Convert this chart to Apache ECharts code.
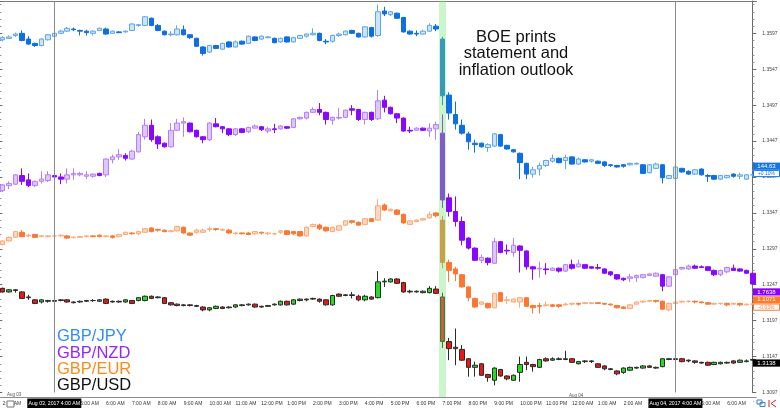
<!DOCTYPE html>
<html>
<head>
<meta charset="utf-8">
<script src="https://cdn.jsdelivr.net/npm/echarts@6/dist/echarts.min.js"></script>
<style>
  html, body { margin: 0; padding: 0; background: #fff; }
  #chart { width: 780px; height: 408px; }
</style>
</head>
<body>
<div id="chart"></div>
<script>
// hours on the bottom axis, 15-minute candles (four per hour)
const aug03Hours = ['2:00 AM', '3:00 AM', '4:00 AM', '5:00 AM', '6:00 AM', '7:00 AM', '8:00 AM', '9:00 AM',
  '10:00 AM', '11:00 AM', '12:00 PM', '1:00 PM', '2:00 PM', '3:00 PM', '4:00 PM', '5:00 PM', '6:00 PM',
  '7:00 PM', '8:00 PM', '9:00 PM', '10:00 PM', '11:00 PM']
const aug04Hours = ['12:00 AM', '1:00 AM', '2:00 AM', '3:00 AM', '4:00 AM', '5:00 AM', '6:00 AM', '7:00 AM']

const dayMarks = ['Aug 03 4:00 AM', 'Aug 04 4:00 AM']
const dayMarkLabels = ['Aug 03, 2017 4:00 AM', 'Aug 04, 2017 4:00 AM']
const boeTime = 'Aug 03 7:00 PM'

// [open, close, low, high], all read against the printed price scale
const jpyData = [
  [1.3588, 1.3591, 1.3586, 1.3593], [1.3590, 1.3592, 1.3589, 1.3594], [1.3594, 1.3596, 1.3592, 1.3598], [1.3597, 1.3587, 1.3586, 1.3601],
  [1.3589, 1.3582, 1.3581, 1.3593], [1.3583, 1.3580, 1.3578, 1.3584], [1.3580, 1.3589, 1.3579, 1.3590], [1.3588, 1.3595, 1.3587, 1.3596],
  [1.3593, 1.3597, 1.3592, 1.3599], [1.3597, 1.3600, 1.3596, 1.3602], [1.3600, 1.3604, 1.3599, 1.3606], [1.3603, 1.3602, 1.3600, 1.3605],
  [1.3601, 1.3600, 1.3594, 1.3602], [1.3600, 1.3598, 1.3594, 1.3602], [1.3597, 1.3600, 1.3594, 1.3601], [1.3601, 1.3604, 1.3600, 1.3605],
  [1.3603, 1.3596, 1.3595, 1.3605], [1.3597, 1.3600, 1.3596, 1.3601], [1.3599, 1.3598, 1.3597, 1.3600], [1.3599, 1.3600, 1.3598, 1.3601],
  [1.3601, 1.3610, 1.3600, 1.3611], [1.3608, 1.3609, 1.3606, 1.3610], [1.3608, 1.3620, 1.3607, 1.3621], [1.3618, 1.3608, 1.3607, 1.3619],
  [1.3608, 1.3601, 1.3600, 1.3610], [1.3600, 1.3595, 1.3594, 1.3601], [1.3595, 1.3596, 1.3593, 1.3600], [1.3595, 1.3603, 1.3594, 1.3608],
  [1.3602, 1.3595, 1.3594, 1.3608], [1.3595, 1.3591, 1.3589, 1.3596], [1.3590, 1.3579, 1.3578, 1.3591], [1.3578, 1.3569, 1.3566, 1.3579],
  [1.3571, 1.3580, 1.3570, 1.3581], [1.3580, 1.3576, 1.3575, 1.3581], [1.3575, 1.3583, 1.3574, 1.3584], [1.3585, 1.3578, 1.3577, 1.3586],
  [1.3578, 1.3585, 1.3577, 1.3587], [1.3586, 1.3582, 1.3581, 1.3587], [1.3583, 1.3593, 1.3582, 1.3594], [1.3592, 1.3587, 1.3586, 1.3593],
  [1.3589, 1.3593, 1.3588, 1.3594], [1.3591, 1.3592, 1.3590, 1.3593], [1.3590, 1.3584, 1.3583, 1.3591], [1.3585, 1.3590, 1.3584, 1.3591],
  [1.3592, 1.3585, 1.3584, 1.3593], [1.3585, 1.3591, 1.3584, 1.3592], [1.3590, 1.3594, 1.3589, 1.3595], [1.3593, 1.3596, 1.3591, 1.3597],
  [1.3595, 1.3597, 1.3594, 1.3604], [1.3597, 1.3587, 1.3586, 1.3598], [1.3586, 1.3585, 1.3582, 1.3589], [1.3586, 1.3594, 1.3584, 1.3595],
  [1.3594, 1.3596, 1.3592, 1.3598], [1.3595, 1.3600, 1.3594, 1.3601], [1.3601, 1.3597, 1.3596, 1.3602], [1.3597, 1.3592, 1.3591, 1.3598],
  [1.3592, 1.3606, 1.3591, 1.3607], [1.3605, 1.3593, 1.3591, 1.3606], [1.3594, 1.3627, 1.3592, 1.3637], [1.3628, 1.3624, 1.3621, 1.3634],
  [1.3623, 1.3627, 1.3621, 1.3628], [1.3625, 1.3618, 1.3617, 1.3626], [1.3619, 1.3599, 1.3598, 1.3620], [1.3600, 1.3596, 1.3595, 1.3601],
  [1.3597, 1.3596, 1.3593, 1.3601], [1.3596, 1.3600, 1.3595, 1.3602], [1.3600, 1.3608, 1.3599, 1.3611], [1.3607, 1.3603, 1.3600, 1.3610],
  [1.3589, 1.3510, 1.3497, 1.3592], [1.3511, 1.3486, 1.3477, 1.3515], [1.3484, 1.3471, 1.3463, 1.3502], [1.3469, 1.3458, 1.3456, 1.3477],
  [1.3457, 1.3446, 1.3435, 1.3460], [1.3444, 1.3442, 1.3431, 1.3449], [1.3444, 1.3439, 1.3438, 1.3445], [1.3438, 1.3442, 1.3432, 1.3444],
  [1.3440, 1.3457, 1.3439, 1.3458], [1.3456, 1.3440, 1.3439, 1.3457], [1.3441, 1.3436, 1.3435, 1.3442], [1.3435, 1.3432, 1.3431, 1.3436],
  [1.3430, 1.3417, 1.3394, 1.3431], [1.3416, 1.3401, 1.3394, 1.3417], [1.3401, 1.3407, 1.3396, 1.3411], [1.3408, 1.3413, 1.3399, 1.3417],
  [1.3413, 1.3420, 1.3411, 1.3421], [1.3419, 1.3423, 1.3417, 1.3428], [1.3423, 1.3417, 1.3416, 1.3424], [1.3420, 1.3424, 1.3408, 1.3428],
  [1.3425, 1.3415, 1.3414, 1.3426], [1.3415, 1.3422, 1.3414, 1.3424], [1.3421, 1.3418, 1.3417, 1.3422], [1.3419, 1.3421, 1.3417, 1.3422],
  [1.3419, 1.3416, 1.3415, 1.3420], [1.3418, 1.3413, 1.3411, 1.3419], [1.3414, 1.3413, 1.3411, 1.3415], [1.3413, 1.3411, 1.3410, 1.3414],
  [1.3414, 1.3412, 1.3410, 1.3415], [1.3414, 1.3416, 1.3413, 1.3417], [1.3415, 1.3416, 1.3414, 1.3417], [1.3414, 1.3402, 1.3401, 1.3415],
  [1.3403, 1.3414, 1.3402, 1.3415], [1.3409, 1.3415, 1.3408, 1.3417], [1.3414, 1.3396, 1.3388, 1.3415], [1.3395, 1.3399, 1.3394, 1.3400],
  [1.3395, 1.3411, 1.3394, 1.3412], [1.3409, 1.3404, 1.3403, 1.3410], [1.3405, 1.3401, 1.3400, 1.3406], [1.3401, 1.3407, 1.3400, 1.3408],
  [1.3408, 1.3400, 1.3399, 1.3409], [1.3399, 1.3398, 1.3390, 1.3401], [1.3399, 1.3394, 1.3393, 1.3400], [1.3394, 1.3399, 1.3393, 1.3400],
  [1.3396, 1.3399, 1.3395, 1.3400], [1.3401, 1.3398, 1.3396, 1.3402], [1.3398, 1.3400, 1.3394, 1.3403], [1.3394, 1.3400, 1.3393, 1.3401],
  [1.3400, 1.3400, 1.3399, 1.3401]
]

const nzdData = [
  [1.3378, 1.3386, 1.3376, 1.3387], [1.3385, 1.3388, 1.3380, 1.3391], [1.3387, 1.3400, 1.3386, 1.3401], [1.3399, 1.3391, 1.3386, 1.3409],
  [1.3393, 1.3385, 1.3383, 1.3402], [1.3385, 1.3391, 1.3383, 1.3392], [1.3391, 1.3394, 1.3388, 1.3405], [1.3392, 1.3400, 1.3390, 1.3405],
  [1.3399, 1.3397, 1.3395, 1.3401], [1.3397, 1.3394, 1.3387, 1.3402], [1.3394, 1.3400, 1.3388, 1.3409], [1.3400, 1.3402, 1.3393, 1.3409],
  [1.3400, 1.3402, 1.3398, 1.3404], [1.3398, 1.3400, 1.3394, 1.3405], [1.3398, 1.3401, 1.3396, 1.3402], [1.3402, 1.3399, 1.3398, 1.3403],
  [1.3400, 1.3422, 1.3397, 1.3423], [1.3421, 1.3425, 1.3416, 1.3428], [1.3425, 1.3428, 1.3421, 1.3436], [1.3427, 1.3423, 1.3420, 1.3430],
  [1.3422, 1.3433, 1.3421, 1.3435], [1.3432, 1.3456, 1.3431, 1.3460], [1.3453, 1.3469, 1.3449, 1.3478], [1.3469, 1.3449, 1.3446, 1.3477],
  [1.3453, 1.3443, 1.3436, 1.3455], [1.3444, 1.3439, 1.3438, 1.3445], [1.3439, 1.3462, 1.3438, 1.3472], [1.3462, 1.3472, 1.3461, 1.3478],
  [1.3472, 1.3474, 1.3453, 1.3480], [1.3472, 1.3460, 1.3459, 1.3473], [1.3462, 1.3453, 1.3452, 1.3463], [1.3453, 1.3449, 1.3444, 1.3454],
  [1.3449, 1.3472, 1.3447, 1.3473], [1.3471, 1.3467, 1.3466, 1.3479], [1.3467, 1.3464, 1.3458, 1.3468], [1.3464, 1.3456, 1.3454, 1.3465],
  [1.3456, 1.3464, 1.3454, 1.3465], [1.3464, 1.3459, 1.3458, 1.3465], [1.3460, 1.3466, 1.3458, 1.3467], [1.3465, 1.3468, 1.3464, 1.3470],
  [1.3467, 1.3463, 1.3461, 1.3468], [1.3461, 1.3464, 1.3458, 1.3467], [1.3464, 1.3463, 1.3458, 1.3471], [1.3464, 1.3468, 1.3463, 1.3469],
  [1.3467, 1.3465, 1.3464, 1.3468], [1.3466, 1.3478, 1.3465, 1.3479], [1.3478, 1.3480, 1.3477, 1.3481], [1.3479, 1.3487, 1.3477, 1.3488],
  [1.3487, 1.3491, 1.3486, 1.3494], [1.3491, 1.3487, 1.3483, 1.3500], [1.3487, 1.3477, 1.3470, 1.3488], [1.3476, 1.3480, 1.3470, 1.3481],
  [1.3479, 1.3480, 1.3477, 1.3493], [1.3480, 1.3490, 1.3479, 1.3491], [1.3492, 1.3490, 1.3483, 1.3497], [1.3491, 1.3477, 1.3475, 1.3492],
  [1.3477, 1.3487, 1.3470, 1.3488], [1.3487, 1.3477, 1.3475, 1.3488], [1.3478, 1.3503, 1.3476, 1.3518], [1.3504, 1.3494, 1.3487, 1.3510],
  [1.3494, 1.3485, 1.3484, 1.3495], [1.3485, 1.3479, 1.3472, 1.3486], [1.3479, 1.3461, 1.3460, 1.3480], [1.3462, 1.3461, 1.3458, 1.3467],
  [1.3462, 1.3465, 1.3461, 1.3466], [1.3465, 1.3462, 1.3461, 1.3466], [1.3461, 1.3465, 1.3453, 1.3472], [1.3464, 1.3470, 1.3449, 1.3474],
  [1.3458, 1.3365, 1.3354, 1.3484], [1.3368, 1.3349, 1.3342, 1.3374], [1.3349, 1.3335, 1.3328, 1.3370], [1.3335, 1.3309, 1.3302, 1.3342],
  [1.3312, 1.3298, 1.3296, 1.3313], [1.3298, 1.3281, 1.3280, 1.3299], [1.3281, 1.3285, 1.3277, 1.3289], [1.3284, 1.3278, 1.3274, 1.3285],
  [1.3277, 1.3307, 1.3276, 1.3312], [1.3307, 1.3292, 1.3291, 1.3308], [1.3295, 1.3294, 1.3289, 1.3303], [1.3292, 1.3302, 1.3286, 1.3312],
  [1.3301, 1.3295, 1.3264, 1.3302], [1.3294, 1.3272, 1.3268, 1.3295], [1.3272, 1.3269, 1.3254, 1.3273], [1.3269, 1.3270, 1.3257, 1.3279],
  [1.3269, 1.3268, 1.3261, 1.3277], [1.3267, 1.3270, 1.3266, 1.3271], [1.3270, 1.3266, 1.3264, 1.3271], [1.3266, 1.3275, 1.3265, 1.3276],
  [1.3275, 1.3270, 1.3268, 1.3282], [1.3272, 1.3276, 1.3271, 1.3282], [1.3275, 1.3270, 1.3269, 1.3276], [1.3272, 1.3270, 1.3269, 1.3273],
  [1.3271, 1.3270, 1.3268, 1.3276], [1.3269, 1.3263, 1.3262, 1.3270], [1.3265, 1.3261, 1.3259, 1.3266], [1.3261, 1.3255, 1.3254, 1.3262],
  [1.3256, 1.3254, 1.3252, 1.3257], [1.3256, 1.3258, 1.3251, 1.3262], [1.3257, 1.3260, 1.3251, 1.3261], [1.3257, 1.3261, 1.3256, 1.3262],
  [1.3260, 1.3262, 1.3259, 1.3263], [1.3259, 1.3263, 1.3258, 1.3264], [1.3261, 1.3245, 1.3238, 1.3262], [1.3245, 1.3258, 1.3244, 1.3259],
  [1.3261, 1.3268, 1.3259, 1.3269], [1.3269, 1.3271, 1.3268, 1.3272], [1.3269, 1.3273, 1.3268, 1.3275], [1.3273, 1.3270, 1.3269, 1.3275],
  [1.3272, 1.3271, 1.3270, 1.3274], [1.3272, 1.3267, 1.3266, 1.3273], [1.3267, 1.3261, 1.3259, 1.3268], [1.3261, 1.3267, 1.3259, 1.3268],
  [1.3265, 1.3271, 1.3263, 1.3272], [1.3270, 1.3267, 1.3266, 1.3275], [1.3269, 1.3266, 1.3265, 1.3270], [1.3267, 1.3263, 1.3262, 1.3268],
  [1.3263, 1.3248, 1.3247, 1.3263]
]

const eurData = [
  [1.3303, 1.3308, 1.3302, 1.3309], [1.3308, 1.3313, 1.3307, 1.3314], [1.3313, 1.3321, 1.3312, 1.3322], [1.3320, 1.3314, 1.3313, 1.3323],
  [1.3315, 1.3316, 1.3313, 1.3318], [1.3317, 1.3313, 1.3312, 1.3318], [1.3314, 1.3315, 1.3313, 1.3316], [1.3314, 1.3315, 1.3313, 1.3316],
  [1.3315, 1.3315, 1.3313, 1.3317], [1.3315, 1.3316, 1.3314, 1.3317], [1.3315, 1.3312, 1.3311, 1.3316], [1.3313, 1.3313, 1.3311, 1.3314],
  [1.3313, 1.3314, 1.3312, 1.3315], [1.3314, 1.3315, 1.3313, 1.3316], [1.3315, 1.3314, 1.3313, 1.3316], [1.3316, 1.3314, 1.3313, 1.3317],
  [1.3314, 1.3315, 1.3313, 1.3316], [1.3315, 1.3313, 1.3311, 1.3316], [1.3314, 1.3317, 1.3313, 1.3318], [1.3317, 1.3320, 1.3316, 1.3321],
  [1.3319, 1.3318, 1.3317, 1.3320], [1.3318, 1.3321, 1.3316, 1.3322], [1.3320, 1.3325, 1.3319, 1.3326], [1.3326, 1.3321, 1.3320, 1.3327],
  [1.3324, 1.3323, 1.3321, 1.3325], [1.3323, 1.3321, 1.3320, 1.3324], [1.3321, 1.3322, 1.3320, 1.3323], [1.3322, 1.3328, 1.3321, 1.3329],
  [1.3327, 1.3319, 1.3318, 1.3328], [1.3319, 1.3316, 1.3315, 1.3320], [1.3320, 1.3323, 1.3318, 1.3325], [1.3320, 1.3323, 1.3319, 1.3325],
  [1.3324, 1.3325, 1.3321, 1.3328], [1.3325, 1.3324, 1.3322, 1.3326], [1.3323, 1.3324, 1.3322, 1.3325], [1.3323, 1.3319, 1.3318, 1.3325],
  [1.3318, 1.3319, 1.3317, 1.3320], [1.3319, 1.3318, 1.3317, 1.3320], [1.3319, 1.3317, 1.3316, 1.3320], [1.3318, 1.3321, 1.3316, 1.3322],
  [1.3320, 1.3319, 1.3317, 1.3321], [1.3318, 1.3319, 1.3316, 1.3320], [1.3318, 1.3318, 1.3316, 1.3319], [1.3320, 1.3322, 1.3318, 1.3323],
  [1.3322, 1.3317, 1.3316, 1.3323], [1.3321, 1.3318, 1.3316, 1.3322], [1.3321, 1.3315, 1.3314, 1.3322], [1.3315, 1.3327, 1.3314, 1.3328],
  [1.3328, 1.3331, 1.3327, 1.3332], [1.3330, 1.3325, 1.3323, 1.3332], [1.3327, 1.3322, 1.3321, 1.3328], [1.3321, 1.3327, 1.3320, 1.3328],
  [1.3323, 1.3329, 1.3322, 1.3330], [1.3330, 1.3336, 1.3329, 1.3337], [1.3336, 1.3334, 1.3332, 1.3337], [1.3334, 1.3330, 1.3329, 1.3335],
  [1.3331, 1.3339, 1.3330, 1.3340], [1.3339, 1.3335, 1.3334, 1.3340], [1.3337, 1.3357, 1.3336, 1.3366], [1.3358, 1.3351, 1.3350, 1.3360],
  [1.3350, 1.3352, 1.3349, 1.3353], [1.3351, 1.3345, 1.3344, 1.3352], [1.3345, 1.3333, 1.3332, 1.3346], [1.3331, 1.3336, 1.3330, 1.3337],
  [1.3335, 1.3337, 1.3334, 1.3338], [1.3337, 1.3339, 1.3336, 1.3339], [1.3340, 1.3345, 1.3339, 1.3349], [1.3347, 1.3343, 1.3341, 1.3348],
  [1.3337, 1.3278, 1.3270, 1.3343], [1.3278, 1.3267, 1.3251, 1.3282], [1.3269, 1.3262, 1.3252, 1.3272], [1.3261, 1.3244, 1.3243, 1.3262],
  [1.3244, 1.3229, 1.3224, 1.3245], [1.3228, 1.3216, 1.3215, 1.3229], [1.3220, 1.3223, 1.3219, 1.3224], [1.3221, 1.3215, 1.3214, 1.3222],
  [1.3215, 1.3235, 1.3214, 1.3236], [1.3236, 1.3224, 1.3223, 1.3237], [1.3225, 1.3226, 1.3220, 1.3231], [1.3223, 1.3227, 1.3222, 1.3228],
  [1.3223, 1.3229, 1.3215, 1.3230], [1.3229, 1.3217, 1.3216, 1.3230], [1.3218, 1.3215, 1.3207, 1.3219], [1.3218, 1.3217, 1.3207, 1.3222],
  [1.3218, 1.3219, 1.3217, 1.3224], [1.3219, 1.3217, 1.3216, 1.3220], [1.3219, 1.3217, 1.3215, 1.3220], [1.3219, 1.3220, 1.3218, 1.3222],
  [1.3220, 1.3221, 1.3218, 1.3222], [1.3221, 1.3220, 1.3218, 1.3222], [1.3221, 1.3222, 1.3220, 1.3223], [1.3221, 1.3222, 1.3220, 1.3223],
  [1.3222, 1.3221, 1.3220, 1.3223], [1.3221, 1.3220, 1.3219, 1.3222], [1.3220, 1.3219, 1.3218, 1.3221], [1.3218, 1.3215, 1.3214, 1.3219],
  [1.3216, 1.3214, 1.3213, 1.3217], [1.3214, 1.3219, 1.3213, 1.3220], [1.3220, 1.3223, 1.3219, 1.3224], [1.3223, 1.3224, 1.3222, 1.3225],
  [1.3224, 1.3225, 1.3223, 1.3226], [1.3225, 1.3224, 1.3222, 1.3226], [1.3224, 1.3213, 1.3212, 1.3225], [1.3212, 1.3221, 1.3210, 1.3222],
  [1.3221, 1.3223, 1.3220, 1.3224], [1.3223, 1.3224, 1.3222, 1.3225], [1.3224, 1.3224, 1.3222, 1.3225], [1.3224, 1.3223, 1.3221, 1.3225],
  [1.3223, 1.3222, 1.3221, 1.3224], [1.3222, 1.3220, 1.3219, 1.3223], [1.3220, 1.3221, 1.3219, 1.3222], [1.3221, 1.3221, 1.3219, 1.3222],
  [1.3221, 1.3219, 1.3217, 1.3222], [1.3220, 1.3221, 1.3219, 1.3222], [1.3221, 1.3219, 1.3217, 1.3222], [1.3219, 1.3220, 1.3218, 1.3221],
  [1.3220, 1.3220, 1.3219, 1.3221]
]

const usdData = [
  [1.3242, 1.3237, 1.3236, 1.3243], [1.3237, 1.3240, 1.3236, 1.3241], [1.3240, 1.3239, 1.3236, 1.3241], [1.3237, 1.3228, 1.3227, 1.3238],
  [1.3230, 1.3229, 1.3226, 1.3233], [1.3226, 1.3221, 1.3220, 1.3227], [1.3223, 1.3226, 1.3221, 1.3227], [1.3225, 1.3224, 1.3222, 1.3226],
  [1.3224, 1.3225, 1.3223, 1.3226], [1.3225, 1.3226, 1.3224, 1.3227], [1.3226, 1.3223, 1.3222, 1.3227], [1.3222, 1.3223, 1.3221, 1.3224],
  [1.3223, 1.3224, 1.3222, 1.3225], [1.3224, 1.3225, 1.3223, 1.3226], [1.3225, 1.3225, 1.3223, 1.3227], [1.3224, 1.3226, 1.3223, 1.3227],
  [1.3227, 1.3221, 1.3220, 1.3228], [1.3223, 1.3224, 1.3222, 1.3225], [1.3224, 1.3223, 1.3222, 1.3225], [1.3223, 1.3226, 1.3222, 1.3227],
  [1.3225, 1.3221, 1.3220, 1.3226], [1.3225, 1.3229, 1.3224, 1.3230], [1.3225, 1.3231, 1.3224, 1.3232], [1.3231, 1.3228, 1.3227, 1.3232],
  [1.3229, 1.3230, 1.3228, 1.3231], [1.3229, 1.3221, 1.3220, 1.3230], [1.3222, 1.3219, 1.3218, 1.3223], [1.3220, 1.3218, 1.3217, 1.3221],
  [1.3218, 1.3219, 1.3217, 1.3220], [1.3219, 1.3218, 1.3217, 1.3220], [1.3218, 1.3217, 1.3216, 1.3219], [1.3216, 1.3212, 1.3210, 1.3217],
  [1.3212, 1.3215, 1.3210, 1.3216], [1.3214, 1.3217, 1.3213, 1.3218], [1.3216, 1.3214, 1.3213, 1.3217], [1.3215, 1.3216, 1.3214, 1.3217],
  [1.3216, 1.3219, 1.3215, 1.3220], [1.3219, 1.3218, 1.3217, 1.3220], [1.3219, 1.3220, 1.3218, 1.3221], [1.3220, 1.3216, 1.3215, 1.3221],
  [1.3216, 1.3217, 1.3215, 1.3218], [1.3217, 1.3218, 1.3216, 1.3219], [1.3219, 1.3220, 1.3218, 1.3221], [1.3219, 1.3224, 1.3218, 1.3225],
  [1.3224, 1.3219, 1.3218, 1.3225], [1.3220, 1.3226, 1.3219, 1.3227], [1.3225, 1.3227, 1.3224, 1.3228], [1.3227, 1.3226, 1.3224, 1.3228],
  [1.3227, 1.3228, 1.3226, 1.3229], [1.3227, 1.3224, 1.3222, 1.3228], [1.3226, 1.3219, 1.3218, 1.3227], [1.3219, 1.3232, 1.3218, 1.3233],
  [1.3234, 1.3231, 1.3230, 1.3235], [1.3232, 1.3233, 1.3231, 1.3234], [1.3233, 1.3232, 1.3228, 1.3237], [1.3231, 1.3226, 1.3224, 1.3233],
  [1.3226, 1.3231, 1.3224, 1.3233], [1.3230, 1.3227, 1.3226, 1.3231], [1.3229, 1.3251, 1.3228, 1.3266], [1.3251, 1.3252, 1.3244, 1.3256],
  [1.3251, 1.3255, 1.3250, 1.3256], [1.3255, 1.3249, 1.3248, 1.3256], [1.3250, 1.3237, 1.3236, 1.3251], [1.3238, 1.3237, 1.3235, 1.3240],
  [1.3237, 1.3238, 1.3236, 1.3239], [1.3236, 1.3238, 1.3235, 1.3239], [1.3236, 1.3242, 1.3235, 1.3245], [1.3241, 1.3235, 1.3234, 1.3245],
  [1.3230, 1.3168, 1.3159, 1.3236], [1.3168, 1.3158, 1.3142, 1.3173], [1.3160, 1.3158, 1.3135, 1.3186], [1.3157, 1.3142, 1.3141, 1.3163],
  [1.3144, 1.3132, 1.3119, 1.3145], [1.3132, 1.3135, 1.3119, 1.3140], [1.3137, 1.3121, 1.3120, 1.3138], [1.3122, 1.3118, 1.3112, 1.3123],
  [1.3114, 1.3131, 1.3107, 1.3132], [1.3129, 1.3120, 1.3119, 1.3130], [1.3120, 1.3116, 1.3114, 1.3121], [1.3114, 1.3121, 1.3113, 1.3122],
  [1.3125, 1.3136, 1.3112, 1.3147], [1.3139, 1.3136, 1.3128, 1.3147], [1.3136, 1.3133, 1.3126, 1.3137], [1.3132, 1.3143, 1.3131, 1.3144],
  [1.3144, 1.3141, 1.3140, 1.3146], [1.3142, 1.3144, 1.3141, 1.3146], [1.3143, 1.3144, 1.3142, 1.3146], [1.3144, 1.3143, 1.3142, 1.3155],
  [1.3144, 1.3139, 1.3138, 1.3145], [1.3137, 1.3140, 1.3136, 1.3141], [1.3140, 1.3141, 1.3138, 1.3142], [1.3141, 1.3140, 1.3138, 1.3142],
  [1.3137, 1.3132, 1.3131, 1.3138], [1.3134, 1.3130, 1.3128, 1.3135], [1.3130, 1.3129, 1.3128, 1.3131], [1.3127, 1.3123, 1.3121, 1.3128],
  [1.3125, 1.3131, 1.3123, 1.3132], [1.3128, 1.3132, 1.3127, 1.3133], [1.3131, 1.3132, 1.3130, 1.3133], [1.3131, 1.3134, 1.3130, 1.3135],
  [1.3134, 1.3132, 1.3131, 1.3135], [1.3131, 1.3132, 1.3130, 1.3133], [1.3133, 1.3144, 1.3132, 1.3145], [1.3143, 1.3144, 1.3142, 1.3145],
  [1.3144, 1.3143, 1.3142, 1.3145], [1.3144, 1.3140, 1.3139, 1.3145], [1.3142, 1.3141, 1.3139, 1.3143], [1.3141, 1.3139, 1.3137, 1.3142],
  [1.3139, 1.3138, 1.3137, 1.3140], [1.3139, 1.3135, 1.3134, 1.3140], [1.3136, 1.3139, 1.3135, 1.3140], [1.3137, 1.3139, 1.3136, 1.3140],
  [1.3138, 1.3139, 1.3137, 1.3140], [1.3141, 1.3138, 1.3137, 1.3142], [1.3139, 1.3142, 1.3138, 1.3143], [1.3140, 1.3141, 1.3139, 1.3143],
  [1.3142, 1.3143, 1.3141, 1.3144]
]

const pairNames = ['GBP/JPY', 'GBP/NZD', 'GBP/EUR', 'GBP/USD']
const lastPrices = ['144.63', '1.7638', '1.1071', '1.3138']
const lastChanges = ['+0.10%', null, '-0.03%', null]
// where each price tag sits on the printed scale
const tagLevels = [1.3412, 1.3237, 1.3226, 1.3138]

const yMin = 1.3097
const yMax = 1.3642
const yStep = 0.005

const timeCategories = []
const allHours = aug03Hours.map((h) => 'Aug 03 ' + h).concat(aug04Hours.map((h) => 'Aug 04 ' + h))
allHours.forEach((h, i) => {
  timeCategories.push(h)
  if (i < allHours.length - 1) {
    timeCategories.push(h.replace(':00', ':15'), h.replace(':00', ':30'), h.replace(':00', ':45'))
  }
})

const FONT = '"Liberation Sans", Arial, sans-serif'
const palette = {
  jpy: { up: '#cfe4fc', upLine: '#5ea6f0', down: '#0d6fe3', text: '#2f8cff' },
  nzd: { up: '#dec6ff', upLine: '#b57dff', down: '#8808ff', text: '#9127ff' },
  eur: { up: '#ffd7c0', upLine: '#ffa877', down: '#ff7632', text: '#ff8a1c' },
  usd: { up: '#22dd22', down: '#ee1515', line: '#2b2b2b', text: '#111111' }
}

function overlaySeries(name, data, c) {
  return {
    name,
    type: 'candlestick',
    xAxisIndex: 0,
    yAxisIndex: 0,
    data,
    barWidth: 5,
    z: 2,
    itemStyle: {
      color: c.up,
      color0: c.down,
      borderColor: c.upLine,
      borderColor0: c.down,
      borderColorDoji: c.upLine,
      borderWidth: 1
    }
  }
}

const chart = echarts.init(document.getElementById('chart'))

const jpySeries = overlaySeries('GBP/JPY', jpyData, palette.jpy)
jpySeries.markLine = {
  silent: true,
  symbol: 'none',
  label: { show: false },
  lineStyle: { color: '#8c8c8c', width: 1, type: 'solid' },
  data: dayMarks.map((t) => ({ xAxis: t }))
}

chart.setOption({
  animation: false,
  backgroundColor: '#ffffff',
  grid: { left: -0.7, right: 23.7, top: 1, bottom: 15.5, outerBoundsMode: 'none', containLabel: false },
  xAxis: [
    {
      type: 'category',
      data: timeCategories,
      position: 'bottom',
      offset: 4.5,
      boundaryGap: true,
      axisLine: { lineStyle: { color: '#8c8c8c' } },
      axisTick: { interval: 3, length: 10, lineStyle: { color: '#b4b4b4' } },
      axisLabel: {
        interval: 3,
        fontSize: 5,
        fontFamily: FONT,
        color: '#333',
        align: 'left',
        margin: 4,
        hideOverlap: false,
        formatter: (v) => v.slice(7)
      },
      splitLine: { show: false }
    },
    {
      type: 'category',
      data: timeCategories,
      position: 'top',
      axisLine: { lineStyle: { color: '#7a7a7a' } },
      axisTick: { show: false },
      axisLabel: { show: false },
      splitLine: { show: false }
    }
  ],
  yAxis: [
    {
      type: 'value',
      position: 'right',
      offset: -4,
      min: yMin,
      max: yMax,
      interval: yStep,
      axisLine: { show: true, lineStyle: { color: '#6b6b6b' } },
      axisTick: { show: true, length: 4, lineStyle: { color: '#6b6b6b' } },
      minorTick: { show: true, splitNumber: 5, length: 2, lineStyle: { color: '#8a8a8a' } },
      axisLabel: {
        fontSize: 5,
        fontFamily: FONT,
        color: '#444',
        margin: 10,
        formatter: (v) => (v > yMax - yStep / 2 ? '' : v.toFixed(4))
      },
      splitLine: { show: false }
    },
    {
      type: 'value',
      position: 'left',
      min: yMin,
      max: yMax,
      interval: yStep,
      axisLine: { show: true, lineStyle: { color: '#6b6b6b' } },
      axisTick: { show: true, inside: true, length: 3, lineStyle: { color: '#6b6b6b' } },
      minorTick: { show: true, splitNumber: 5, length: 2, lineStyle: { color: '#8a8a8a' } },
      axisLabel: { show: false },
      splitLine: { show: false }
    },
    { type: 'value', min: 0.0115, max: 1, show: false }
  ],
  series: [
    jpySeries,
    overlaySeries('GBP/NZD', nzdData, palette.nzd),
    overlaySeries('GBP/EUR', eurData, palette.eur),
    {
      name: 'GBP/USD',
      type: 'candlestick',
      xAxisIndex: 0,
      yAxisIndex: 0,
      data: usdData,
      barWidth: 5,
      z: 2,
      itemStyle: {
        color: palette.usd.up,
        color0: palette.usd.down,
        borderColor: palette.usd.line,
        borderColor0: palette.usd.line,
        borderColorDoji: palette.usd.line,
        borderWidth: 1
      }
    },
    {
      // highlight of the BOE candle
      name: 'BOE',
      type: 'bar',
      xAxisIndex: 0,
      yAxisIndex: 2,
      data: timeCategories.map((t) => (t === boeTime ? 1 : '-')),
      barWidth: 7,
      clip: false,
      silent: true,
      z: 5,
      itemStyle: { color: 'rgba(118, 228, 118, 0.38)' }
    }
  ]
})

// annotations placed with the chart's own scales
const graphics = []

graphics.push({
  type: 'text', x: 516, y: 53.7, silent: true, z: 50,
  style: {
    text: 'BOE prints\nstatement and\ninflation outlook',
    font: '16.5px ' + FONT, fill: '#111', lineHeight: 16.7,
    align: 'center', textAlign: 'center', verticalAlign: 'middle', textVerticalAlign: 'middle'
  }
})

const legendColors = [palette.jpy.text, palette.nzd.text, palette.eur.text, palette.usd.text]
const legendY = [336.5, 353.2, 369.4, 385.5]
pairNames.forEach((n, i) => {
  graphics.push({
    type: 'text', x: 57, y: legendY[i], silent: true, z: 50,
    style: {
      text: n, font: '16.5px ' + FONT, fill: legendColors[i],
      align: 'left', textAlign: 'left', verticalAlign: 'middle', textVerticalAlign: 'middle'
    }
  })
})

// day captions above the time axis
graphics.push({
  type: 'text', x: 7, y: 395, silent: true, z: 50,
  style: { text: 'Aug 03', font: '4.5px ' + FONT, fill: '#555', verticalAlign: 'middle', textVerticalAlign: 'middle' }
})
graphics.push({
  type: 'text', x: chart.convertToPixel({ xAxisIndex: 0 }, 'Aug 04 12:00 AM') - 3, y: 396, silent: true, z: 50,
  style: { text: 'Aug 04', font: '4.5px ' + FONT, fill: '#555', verticalAlign: 'middle', textVerticalAlign: 'middle' }
})

// black date boxes at the two day separators
dayMarks.forEach((t, i) => {
  const x = chart.convertToPixel({ xAxisIndex: 0 }, t)
  graphics.push({
    type: 'rect', silent: true, z: 60,
    shape: { x: x - 27, y: 398.5, width: 54, height: 9.5 },
    style: { fill: '#000' }
  })
  graphics.push({
    type: 'text', x, y: 403.5, silent: true, z: 61,
    style: {
      text: dayMarkLabels[i], font: '5.2px ' + FONT, fill: '#fff',
      align: 'center', textAlign: 'center', verticalAlign: 'middle', textVerticalAlign: 'middle'
    }
  })
})

// small box at the lower left
graphics.push({
  type: 'rect', silent: true, z: 60,
  shape: { x: 7, y: 401, width: 7, height: 6 },
  style: { fill: '#fff', stroke: '#777', lineWidth: 1 }
})

// icons at the lower right
graphics.push({ type: 'rect', silent: true, z: 60, shape: { x: 754, y: 398.5, width: 26, height: 9.5 }, style: { fill: '#fff' } })
graphics.push({ type: 'rect', silent: true, z: 61, shape: { x: 757, y: 400, width: 5, height: 4 }, style: { fill: 'none', stroke: '#3d7fd9', lineWidth: 1 } })
graphics.push({ type: 'rect', silent: true, z: 61, shape: { x: 760, y: 402.5, width: 5, height: 4 }, style: { fill: 'none', stroke: '#3d7fd9', lineWidth: 1 } })
graphics.push({ type: 'line', silent: true, z: 61, shape: { x1: 769, y1: 400, x2: 769, y2: 407 }, style: { stroke: '#e02020', lineWidth: 1 } })
graphics.push({ type: 'polyline', silent: true, z: 61, shape: { points: [[776, 400], [771, 403.5], [776, 407]] }, style: { fill: 'none', stroke: '#e02020', lineWidth: 1 } })

// last-price tags on the right scale
const tagFill = ['#1476e6', '#8a00ff', '#ff7a2e', '#000000']
tagLevels.forEach((lv, i) => {
  const y = chart.convertToPixel({ yAxisIndex: 0 }, lv)
  graphics.push({
    type: 'rect', silent: true, z: 70,
    shape: { x: 753, y: y - 3.6, width: 27, height: 7.2 },
    style: { fill: tagFill[i] }
  })
  graphics.push({
    type: 'text', x: 766.5, y, silent: true, z: 71,
    style: {
      text: lastPrices[i], font: '6px ' + FONT, fill: '#fff',
      align: 'center', textAlign: 'center', verticalAlign: 'middle', textVerticalAlign: 'middle'
    }
  })
  if (lastChanges[i]) {
    graphics.push({
      type: 'rect', silent: true, z: 70,
      shape: { x: 753.5, y: y + 4.2, width: 26, height: 6.2 },
      style: { fill: '#fff', stroke: tagFill[i], lineWidth: 1 }
    })
    graphics.push({
      type: 'text', x: 766.5, y: y + 7.3, silent: true, z: 71,
      style: {
        text: lastChanges[i], font: '5px ' + FONT, fill: tagFill[i],
        align: 'center', textAlign: 'center', verticalAlign: 'middle', textVerticalAlign: 'middle'
      }
    })
  }
})

chart.setOption({ graphic: graphics })
</script>
</body>
</html>
